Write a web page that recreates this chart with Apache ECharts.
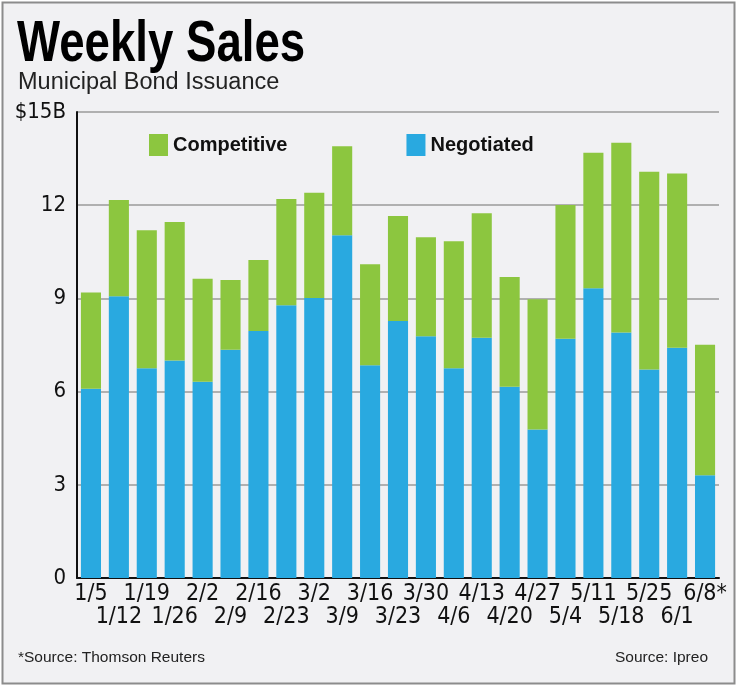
<!DOCTYPE html>
<html>
<head>
<meta charset="utf-8">
<script src="https://cdn.jsdelivr.net/npm/echarts@6/dist/echarts.min.js"></script>
<style>
  html, body { margin: 0; padding: 0; background: #fff; }
  #chart { width: 740px; height: 688px; }
</style>
</head>
<body>
<div id="chart"></div>
<script>
// week labels
const weeks = ['1/5', '1/12', '1/19', '1/26', '2/2', '2/9', '2/16', '2/23', '3/2', '3/9', '3/16', '3/23',
  '3/30', '4/6', '4/13', '4/20', '4/27', '5/4', '5/11', '5/18', '5/25', '6/1', '6/8*']
// $ billions
const negotiated = [6.09, 9.07, 6.75, 7.0, 6.32, 7.35, 7.95, 8.78, 9.01, 11.03, 6.85, 8.27,
  7.78, 6.75, 7.73, 6.16, 4.78, 7.7, 9.33, 7.9, 6.71, 7.41, 3.31]
const competitive = [3.1, 3.1, 4.44, 4.46, 3.31, 2.24, 2.29, 3.42, 3.39, 2.87, 3.25, 3.38,
  3.19, 4.09, 4.01, 3.53, 4.19, 4.31, 4.36, 6.11, 6.37, 5.61, 4.2]

const narrow = '"DejaVu Sans Condensed", sans-serif'
const plain = '"Liberation Sans", Arial, sans-serif'
const green = '#8cc63f'
const blue = '#29a9e0'

const myChart = echarts.init(document.getElementById('chart'))
myChart.setOption({
  animation: false,
  backgroundColor: 'transparent',
  graphic: [
    {
      type: 'rect', z: -10, silent: true,
      shape: { x: 2.5, y: 2.5, width: 732, height: 681 },
      style: { fill: '#f1f1f3', stroke: '#8c8c8c', lineWidth: 2 }
    },
    {
      // title is set in a condensed heavy face, so squeeze it a bit
      type: 'text', x: 17, y: 17, scaleX: 0.8,
      style: { text: 'Weekly Sales', font: 'bold 57px ' + plain, fill: '#000' }
    },
    {
      type: 'text', left: 18, top: 71,
      style: { text: 'Municipal Bond Issuance', font: '23.5px ' + plain, fill: '#222' }
    },
    {
      type: 'text', left: 18, top: 650,
      style: { text: '*Source: Thomson Reuters', font: '15.5px ' + plain, fill: '#222' }
    },
    {
      type: 'text', right: 32, top: 650,
      style: { text: 'Source: Ipreo', font: '15.5px ' + plain, fill: '#222' }
    }
  ],
  legend: {
    data: ['Competitive', 'Negotiated'],
    left: 149, top: 134,
    padding: 0,
    itemWidth: 19, itemHeight: 22, itemGap: 119,
    icon: 'rect',
    textStyle: { fontFamily: plain, fontWeight: 'bold', fontSize: 20, color: '#111' }
  },
  grid: { left: 77, right: 21, top: 112, bottom: 110 },
  xAxis: {
    type: 'category',
    data: weeks,
    axisLine: { lineStyle: { color: '#111', width: 2 } },
    axisTick: { inside: true, length: 10, lineStyle: { color: '#111', width: 2 } },
    axisLabel: {
      interval: 0,
      margin: 5,
      fontFamily: narrow,
      fontSize: 23,
      lineHeight: 23,
      color: '#111',
      formatter: (v, i) => (i % 2 ? '\n' + v : v)
    }
  },
  yAxis: {
    type: 'value',
    min: 0, max: 15, interval: 3,
    axisLine: { show: true, lineStyle: { color: '#111', width: 2 } },
    axisTick: { show: false },
    splitLine: { lineStyle: { color: '#9a9a9a', width: 1.5 } },
    axisLabel: {
      margin: 11,
      fontFamily: narrow,
      fontSize: 22,
      color: '#111',
      formatter: v => (v === 15 ? '$15B' : v)
    }
  },
  series: [
    {
      name: 'Negotiated', type: 'bar', stack: 'total',
      data: negotiated, barCategoryGap: '28%',
      itemStyle: { color: blue }
    },
    {
      name: 'Competitive', type: 'bar', stack: 'total',
      data: competitive, barCategoryGap: '28%',
      itemStyle: { color: green }
    }
  ]
})
</script>
</body>
</html>
